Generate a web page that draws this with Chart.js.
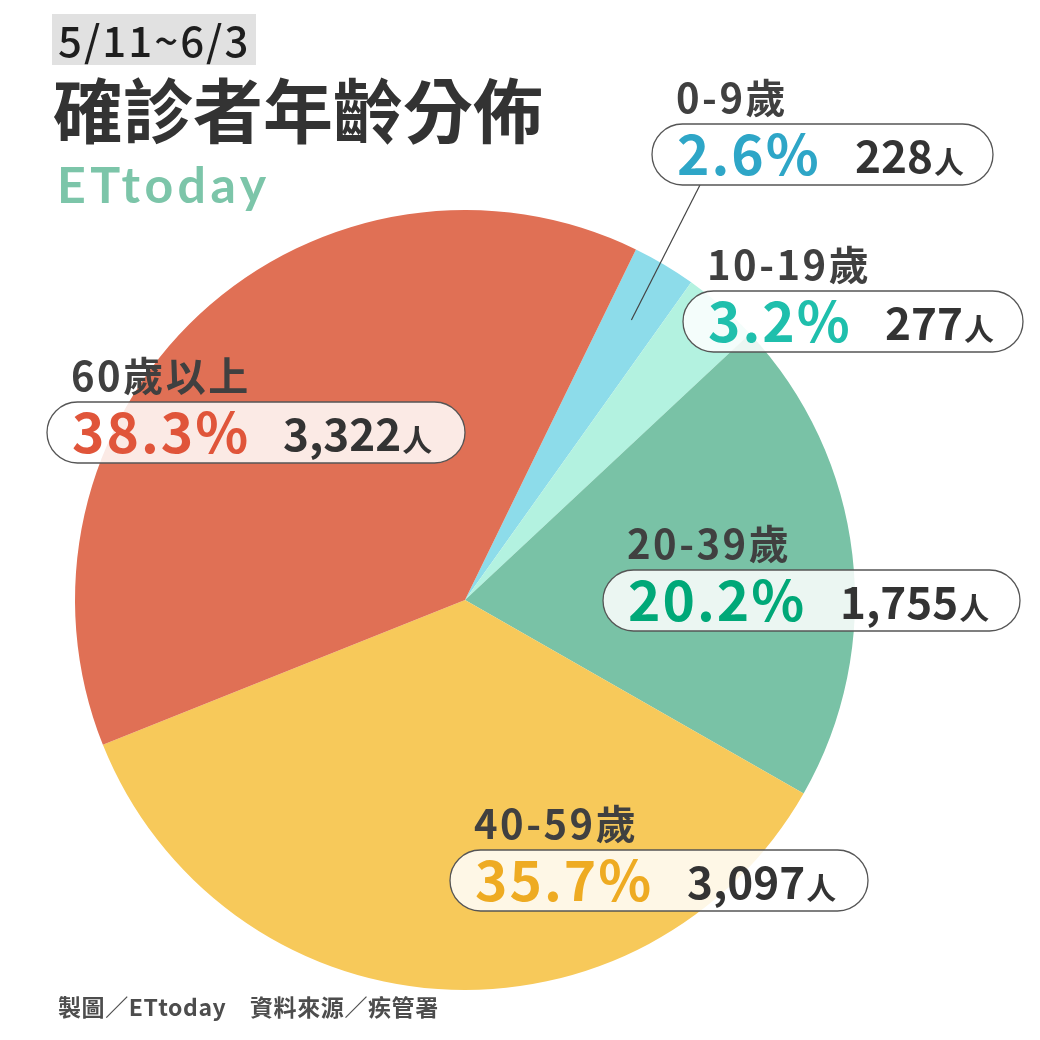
<!DOCTYPE html>
<html>
<head>
<meta charset="utf-8">
<script src="https://cdn.jsdelivr.net/npm/chart.js@4.4.1/dist/chart.umd.min.js"></script>
<style>
  html, body { margin: 0; padding: 0; background: #fff; }
  #wrap { width: 1040px; height: 1040px; position: relative; }
</style>
</head>
<body>
<div id="wrap"><canvas id="c" width="1040" height="1040"></canvas></div>
<script>
// data
const ageGroups = ['0-9歲', '10-19歲', '20-39歲', '40-59歲', '60歲以上'];
const caseCounts = [228, 277, 1755, 3097, 3322];

const sliceColors = ['#8ddcea', '#b3f2e0', '#79c2a6', '#f7c95a', '#e07055'];
const pctColors = ['#2ea6c7', '#1fbfac', '#00a878', '#eeab22', '#e0553a'];

// callout boxes: left, top, right, x of the count text
const callouts = [
  { x: 652, y: 124, r: 993, cx: 855 },
  { x: 683, y: 291, r: 1023, cx: 885 },
  { x: 603, y: 570, r: 1020, cx: 840 },
  { x: 450, y: 850, r: 868, cx: 687 },
  { x: 47, y: 402, r: 465, cx: 283 },
];
const BOX_H = 61;
const CJK = '"Noto Sans CJK TC", "Noto Sans", sans-serif';

function pill(ctx, x, y, w, h) {
  const rad = h / 2;
  ctx.beginPath();
  ctx.moveTo(x + rad, y);
  ctx.lineTo(x + w - rad, y);
  ctx.arc(x + w - rad, y + rad, rad, -Math.PI / 2, Math.PI / 2);
  ctx.lineTo(x + rad, y + h);
  ctx.arc(x + rad, y + rad, rad, Math.PI / 2, Math.PI * 1.5);
  ctx.closePath();
}

function text(ctx, s, x, y, font, color, spacing) {
  ctx.font = font;
  ctx.fillStyle = color;
  ctx.letterSpacing = (spacing || 0) + 'px';
  ctx.fillText(s, x, y);
  const w = ctx.measureText(s).width;
  ctx.letterSpacing = '0px';
  return w;
}

const overlay = {
  id: 'overlay',
  afterDraw(chart) {
    const ctx = chart.ctx;
    const total = caseCounts.reduce((a, b) => a + b, 0);
    const arcs = chart.getDatasetMeta(0).data;
    ctx.save();
    ctx.textBaseline = 'alphabetic';
    ctx.textAlign = 'left';

    // heading
    ctx.fillStyle = '#e1e1e1';
    ctx.fillRect(52, 14, 204, 51);
    text(ctx, '5/11~6/3', 58, 57, '500 42px ' + CJK, '#1e1e1e', 2);
    text(ctx, '確診者年齡分佈', 53, 138, 'bold 70px ' + CJK, '#333333', 0);
    text(ctx, 'ETtoday', 57, 203, 'bold 50px Lato, sans-serif', '#7cc5a9', 4.5);

    // leader line for the thin 0-9 slice
    const a0 = arcs[0];
    const mid = (a0.startAngle + a0.endAngle) / 2;
    ctx.strokeStyle = '#444';
    ctx.lineWidth = 1.2;
    ctx.beginPath();
    ctx.moveTo(700, callouts[0].y + BOX_H);
    ctx.lineTo(a0.x + Math.cos(mid) * a0.outerRadius * 0.835, a0.y + Math.sin(mid) * a0.outerRadius * 0.835);
    ctx.stroke();

    callouts.forEach((c, i) => {
      pill(ctx, c.x, c.y, c.r - c.x, BOX_H);
      ctx.fillStyle = 'rgba(255,255,255,0.85)';
      ctx.fill();
      ctx.strokeStyle = '#555';
      ctx.lineWidth = 1.3;
      ctx.stroke();

      text(ctx, ageGroups[i], c.x + 24, c.y - 11, 'bold 40px ' + CJK, '#404040', 2.5);

      const pct = (caseCounts[i] / total * 100).toFixed(1) + '%';
      text(ctx, pct, c.x + 25, c.y + 51, 'bold 55px ' + CJK, pctColors[i], 2);

      const cnt = caseCounts[i].toLocaleString('en-US');
      const w = text(ctx, cnt, c.cx, c.y + 49, 'bold 44px ' + CJK, '#333', 0);
      text(ctx, '人', c.cx + w + 1, c.y + 49, 'bold 30px ' + CJK, '#333', 0);
    });

    text(ctx, '製圖／ETtoday　資料來源／疾管署', 58, 1016, 'bold 23px ' + CJK, '#4d4d4d', 0.6);
    ctx.restore();
  }
};

new Chart(document.getElementById('c'), {
  type: 'pie',
  data: {
    labels: ageGroups,
    datasets: [{ data: caseCounts, backgroundColor: sliceColors, borderWidth: 0 }]
  },
  options: {
    responsive: false,
    animation: false,
    rotation: 26,
    layout: { padding: { left: 75, right: 185, top: 210, bottom: 50 } },
    plugins: { legend: { display: false }, tooltip: { enabled: false } }
  },
  plugins: [overlay]
});
</script>
</body>
</html>
